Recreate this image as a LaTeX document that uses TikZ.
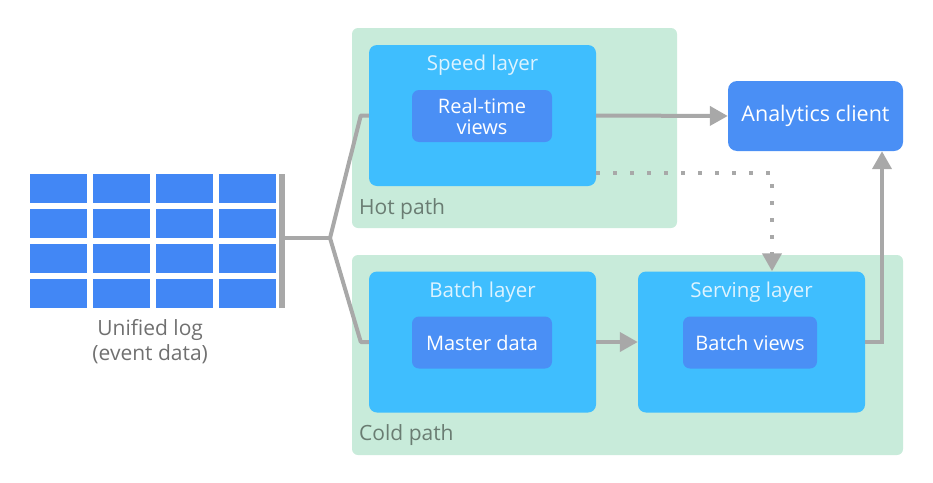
\documentclass[tikz,border=0pt]{standalone}
\usepackage{fontspec}
\setmainfont{Open Sans}
\usetikzlibrary{arrows.meta,positioning}
\definecolor{pathgreen}{HTML}{C8EBDA}
\definecolor{layerblue}{HTML}{3FBEFE}
\definecolor{viewblue}{HTML}{4A8FF5}
\definecolor{logblue}{HTML}{4287F5}
\definecolor{wiregray}{HTML}{A8A8A8}
\definecolor{titletext}{HTML}{DDF3FF}
\definecolor{pathtext}{HTML}{6A7C72}
\definecolor{logtext}{HTML}{707070}

\begin{document}
\begin{tikzpicture}[x=1pt, y=-1pt,
  region/.style={rectangle, fill=pathgreen, rounded corners=6pt, inner sep=0pt},
  layer/.style={rectangle, fill=layerblue, rounded corners=8pt, inner sep=0pt,
    minimum width=227pt, minimum height=141pt},
  view/.style={rectangle, fill=viewblue, rounded corners=7pt, inner sep=0pt,
    minimum height=52pt, text=white, align=center, font=\fontsize{20}{21}\selectfont},
  layertitle/.style={text=titletext, font=\fontsize{20.5}{22}\selectfont, inner sep=0pt},
  pathlabel/.style={text=pathtext, font=\fontsize{21}{22}\selectfont, inner sep=0pt, anchor=west},
  cell/.style={rectangle, fill=logblue, inner sep=0pt, minimum width=57pt, minimum height=29pt},
  wire/.style={draw=wiregray, line width=4pt},
  arrowtip/.style={-{Triangle[length=18pt,width=19pt]}},
]
  \useasboundingbox (0,0) rectangle (933,482);

  % hot and cold path regions
  \node[region, minimum width=325pt, minimum height=200pt] (hot) at (514.5,128) {};
  \node[region, minimum width=551pt, minimum height=200pt] (cold) at (627.5,355) {};
  \node[pathlabel] (hotlabel) at (359,209) {Hot path};
  \node[pathlabel] (coldlabel) at (359,435) {Cold path};

  % layers
  \node[layer] (speed) at (482.5,115.5) {};
  \node[layer] (batch) at (482.5,342) {};
  \node[layer] (serving) at (751.5,342) {};
  \node[layertitle, below=10pt of speed.north] (speedtitle) {Speed layer};
  \node[layertitle, below=10pt of batch.north] (batchtitle) {Batch layer};
  \node[layertitle, below=10pt of serving.north] (servingtitle) {Serving layer};
  \node[view, minimum width=140pt] (realtime) at (482,116) {Real-time\\views};
  \node[view, minimum width=140pt] (master) at (482,342.5) {Master data};
  \node[view, minimum width=134pt] (batchviews) at (750,342.5) {Batch views};

  \node[rectangle, fill=viewblue, rounded corners=9pt, minimum width=175pt,
    minimum height=70pt, text=white, font=\fontsize{21.5}{22}\selectfont]
    (analytics) at (815.5,116) {Analytics client};

  % unified log
  \foreach \r in {0,...,3}
    \foreach \c in {0,...,3}
      \node[cell] (cell-\r-\c) at (58.5+63*\c, 188.5+35*\r) {};
  \node[rectangle, fill=wiregray, inner sep=0pt, minimum width=6pt, minimum height=134pt]
    (logbar) at (282,241) {};
  \node[text=logtext, align=center, font=\fontsize{21}{25}\selectfont, below=8pt of cell-3-1.south east]
    (loglabel) {Unified log\\(event data)};

  % connectors
  \coordinate (fork) at (330,238);
  \draw[wire] (logbar.east |- fork) -- (fork);
  \draw[wire, line join=round] (fork) -- ([xshift=-8pt]speed.west) -- (speed.west);
  \draw[wire, line join=round] (fork) -- ([xshift=-8pt]batch.west) -- (batch.west);
  \draw[wire, arrowtip] (speed.east) -- (analytics.west);
  \draw[wire, arrowtip] (batch.east) -- (serving.west);
  \draw[wire, arrowtip] (serving.east) -| ([xshift=66.5pt]analytics.south);
  \coordinate (dotstart) at (speed.east |- 0,173);
  \draw[wire, dash pattern=on 4pt off 13pt, arrowtip]
    (dotstart) -| ([xshift=20.5pt]serving.north);
\end{tikzpicture}
\end{document}
